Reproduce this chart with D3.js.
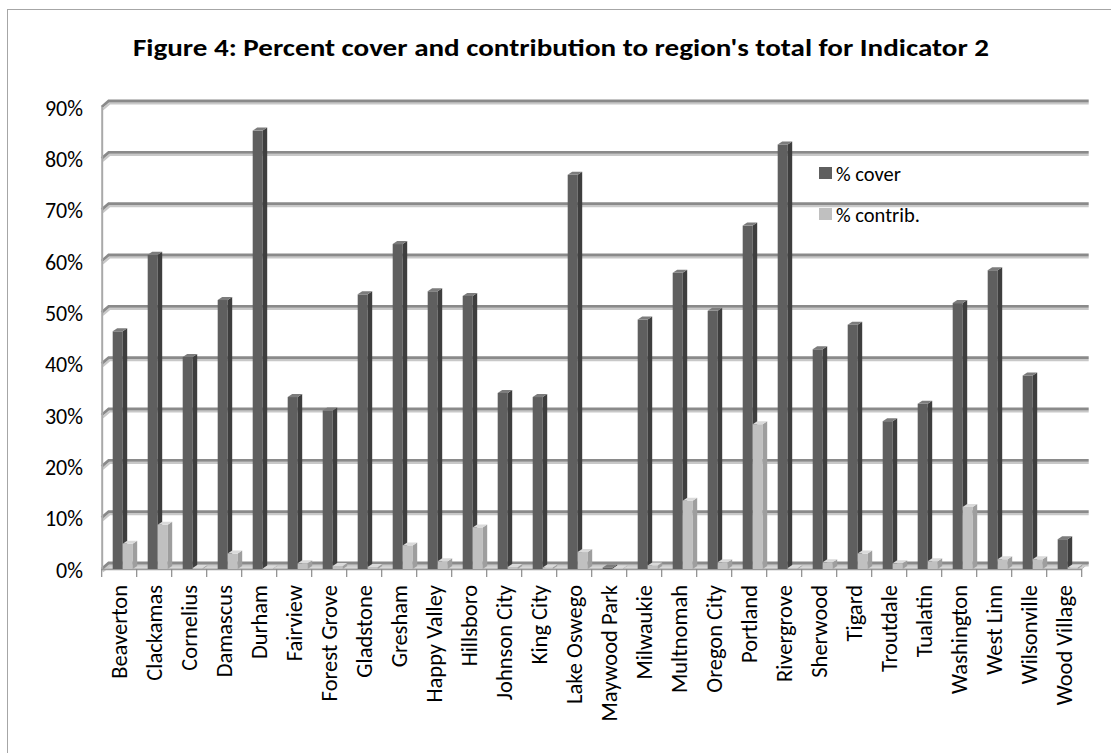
<!DOCTYPE html>
<html>
<head>
<meta charset="utf-8">
<script src="https://cdn.jsdelivr.net/npm/d3@7"></script>
<style>
  html, body { margin: 0; padding: 0; background: #fff; }
  svg { display: block; }
  text { font-family: Carlito, Calibri, Lato, sans-serif; fill: #000; }
</style>
</head>
<body>
<svg id="chart" width="1111" height="753"></svg>
<script>
// Towns in the region
const categories = [
  "Beaverton", "Clackamas", "Cornelius", "Damascus", "Durham", "Fairview",
  "Forest Grove", "Gladstone", "Gresham", "Happy Valley", "Hillsboro",
  "Johnson City", "King City", "Lake Oswego", "Maywood Park", "Milwaukie",
  "Multnomah", "Oregon City", "Portland", "Rivergrove", "Sherwood", "Tigard",
  "Troutdale", "Tualatin", "Washington", "West Linn", "Wilsonville", "Wood Village"
];

// Percent of each town covered by Indicator 2
const coverValues = [
  46.3, 61.2, 41.3, 52.4, 85.4, 33.5, 30.9, 53.5, 63.3, 54.1, 53.2,
  34.3, 33.5, 76.8, 0.3, 48.6, 57.7, 50.3, 66.9, 82.7, 42.8, 47.6,
  28.8, 32.2, 51.8, 58.2, 37.7, 5.8
];

// Each town's contribution to the region's total
const contribValues = [
  4.9, 8.6, 0.2, 3.0, 0.1, 1.1, 0.6, 0.4, 4.6, 1.5, 8.1,
  0.4, 0.3, 3.3, 0.1, 0.7, 13.3, 1.3, 28.2, 0.2, 1.3, 3.0,
  1.1, 1.5, 12.1, 1.9, 1.9, 0.3
];

const seriesNames = ["% cover", "% contrib."];
const yTicks = [0, 10, 20, 30, 40, 50, 60, 70, 80, 90];
const titleText = "Figure 4: Percent cover and contribution to region's total for Indicator 2";

const svg = d3.select("#chart");

// Outer chart frame
svg.append("rect")
  .attr("x", 7.5).attr("y", 9.5)
  .attr("width", 1200).attr("height", 800)
  .attr("fill", "#fff").attr("stroke", "#a6a6a6").attr("stroke-width", 1);

// Title
svg.append("text")
  .attr("x", 133).attr("y", 56)
  .attr("textLength", 856).attr("lengthAdjust", "spacingAndGlyphs")
  .style("font-size", "25px").style("font-weight", "bold")
  .text(titleText);

// Scales: front plane of the 3D plot, back wall offset by the depth
const x = d3.scaleBand().domain(categories).range([101.7, 1081.7]).padding(0);
const xs = d3.scaleBand().domain(seriesNames).range([11, 31]).padding(0);
const y = d3.scaleLinear().domain([0, 90]).range([569, 107]);
const depthX = 7, depthY = -6;

const rows = categories.map((c, i) => ({ cat: c, vals: [coverValues[i], contribValues[i]] }));

// Floor
const x0 = x.range()[0], x1 = x.range()[1];
svg.append("polygon")
  .attr("points", [[x0, y(0)], [x1, y(0)], [x1 + depthX, y(0) + depthY], [x0 + depthX, y(0) + depthY]].map(p => p.join(",")).join(" "))
  .attr("fill", "#d6d6d6").attr("stroke", "#bdbdbd").attr("stroke-width", 1);

// Back wall gridlines with bevelled left ends
const grid = svg.append("g");
yTicks.forEach(t => {
  const yb = y(t) + depthY;
  grid.append("path")
    .attr("d", `M${x0 + 1},${yb + 8.5} L${x0 + depthX + 1},${yb + 2.5} L${x1 + depthX},${yb + 2.5}`)
    .attr("fill", "none").attr("stroke", "#c8c8c8").attr("stroke-width", 2.2);
  grid.append("path")
    .attr("d", `M${x0},${yb + 6} L${x0 + depthX},${yb} L${x1 + depthX},${yb}`)
    .attr("fill", "none").attr("stroke", "#8a8a8a").attr("stroke-width", 2.8);
});

// Side wall edge (vertical axis)
svg.append("line")
  .attr("x1", x0 + 0.5).attr("x2", x0 + 0.5)
  .attr("y1", y(90)).attr("y2", y(0))
  .attr("stroke", "#a9a9a9").attr("stroke-width", 2);

// Category axis line and ticks
svg.append("line")
  .attr("x1", x0).attr("x2", x1).attr("y1", y(0) + 0.5).attr("y2", y(0) + 0.5)
  .attr("stroke", "#9a9a9a").attr("stroke-width", 1.5);
const tickXs = categories.map(c => x(c)).concat([x1]);
svg.append("g").selectAll("line").data(tickXs).join("line")
  .attr("x1", d => d).attr("x2", d => d)
  .attr("y1", y(0)).attr("y2", y(0) + 8)
  .attr("stroke", "#8a8a8a").attr("stroke-width", 1.2);

// Value labels on the vertical axis
svg.append("g").selectAll("text").data(yTicks).join("text")
  .attr("x", 83).attr("y", d => y(d) + 1)
  .attr("text-anchor", "end").attr("dominant-baseline", "central")
  .style("font-size", "22px")
  .text(d => d + "%");

// 3D columns
const palettes = [
  { front: "#5f5f5f", side: "#3e3e3e", top: "#7c7c7c" },
  { front: "#c0c0c0", side: "#9e9e9e", top: "#dadada" }
];
const bw = xs.bandwidth();
const bdx = 4.5, bdy = -3;
const bars = svg.append("g");
rows.forEach(r => {
  r.vals.forEach((v, si) => {
    const pal = palettes[si];
    const left = x(r.cat) + xs(seriesNames[si]);
    const right = left + bw;
    const yt = y(v), yb = y(0);
    const g = bars.append("g");
    // front face
    g.append("rect")
      .attr("x", left).attr("y", yt)
      .attr("width", bw).attr("height", Math.max(0, yb - yt))
      .attr("fill", pal.front);
    // right side face
    g.append("polygon")
      .attr("points", [[right, yt], [right + bdx, yt + bdy], [right + bdx, yb + bdy], [right, yb]].map(p => p.join(",")).join(" "))
      .attr("fill", pal.side);
    // top face
    g.append("polygon")
      .attr("points", [[left, yt], [right, yt], [right + bdx, yt + bdy], [left + bdx, yt + bdy]].map(p => p.join(",")).join(" "))
      .attr("fill", pal.top);
  });
});

// Category labels, rotated
svg.append("g").selectAll("text").data(categories).join("text")
  .attr("transform", d => `translate(${x(d) + x.bandwidth() / 2 + 0.5},585) rotate(-90)`)
  .attr("text-anchor", "end").attr("dominant-baseline", "central")
  .style("font-size", "22.5px")
  .text(d => d);

// Legend
const legend = svg.append("g").attr("transform", "translate(819,167)");
seriesNames.forEach((name, i) => {
  const row = legend.append("g").attr("transform", `translate(0,${i * 41})`);
  row.append("rect").attr("width", 13).attr("height", 12).attr("fill", palettes[i].front);
  row.append("text")
    .attr("x", 17).attr("y", 7)
    .attr("dominant-baseline", "central")
    .style("font-size", "20.5px")
    .text(name);
});
</script>
</body>
</html>
